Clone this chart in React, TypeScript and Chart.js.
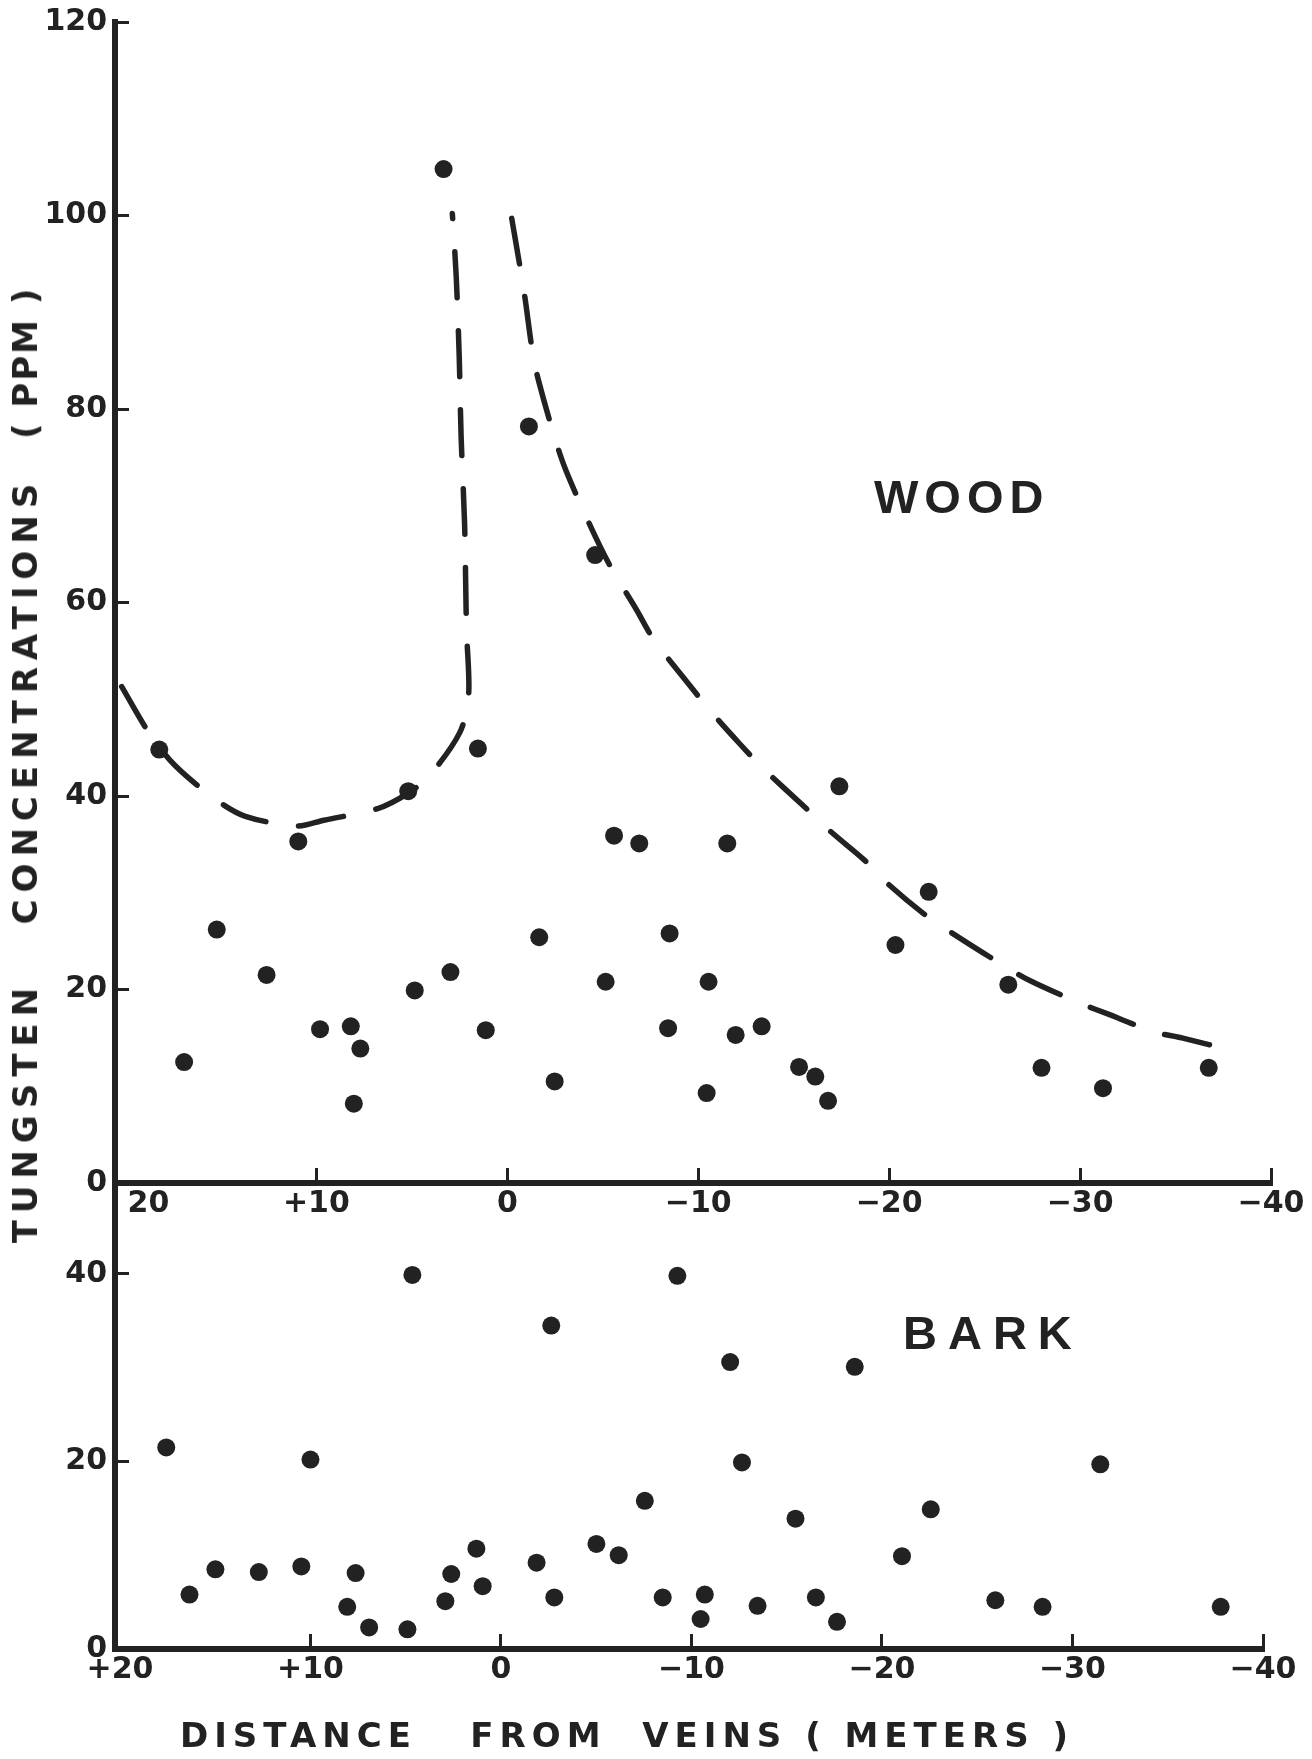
import React, { useEffect, useRef } from "react";
import { Chart, registerables } from "chart.js";

Chart.register(...registerables);

const INK = "#222222";

// ---- tick values and labels ----
const xTickValues = [20, 10, 0, -10, -20, -30, -40];
// In the WOOD panel the "20" label sits just right of the vertical axis (no tick mark there)
const woodXLabelAnchors = [18.8, 10, 0, -10, -20, -30, -40];
const woodXTickLabels = ["20", "+10", "0", "−10", "−20", "−30", "−40"];
const barkXTickLabels = ["+20", "+10", "0", "−10", "−20", "−30", "−40"];
const woodYTickValues = [0, 20, 40, 60, 80, 100, 120];
const barkYTickValues = [0, 20, 40];

// ---- WOOD samples (distance m, tungsten ppm) ----
const woodDistance = [
  3.34, -1.13, -4.6, 18.23, 15.22, 16.93, 12.61, 10.95, 9.81, 8.2, 7.7, 8.04, 5.19,
  4.85, 2.98, 1.54, 1.13, -1.67, -2.48, -5.15, -5.59, -6.91, -8.5, -8.42, -17.39,
  -11.52, -22.07, -20.33, -10.54, -26.24, -11.96, -13.32, -15.28, -16.13, -16.8,
  -10.44, -27.98, -31.2, -36.74,
];
const woodPpm = [
  104.8, 78.2, 64.9, 44.8, 26.2, 12.5, 21.5, 35.3, 15.9, 16.2, 13.9, 8.2, 40.5,
  19.9, 21.8, 44.9, 15.8, 25.4, 10.5, 20.8, 35.9, 35.1, 25.8, 16.0, 41.0,
  35.1, 30.1, 24.6, 20.8, 20.5, 15.3, 16.2, 12.0, 11.0, 8.5,
  9.3, 11.9, 9.8, 11.9,
];

// ---- WOOD envelope curves (dashed) ----
const leftEnvelopeDistance = [
  20.2, 18.73, 17.43, 15.32, 13.72, 11.01, 9.6, 6.79, 5.19, 4.08, 2.48, 2.03, 2.12,
  2.16, 2.24, 2.42, 2.52, 2.68, 2.88,
];
const leftEnvelopePpm = [
  51.3, 46.4, 43.2, 39.7, 37.9, 36.9, 37.5, 38.7, 40.3, 42.1, 46.6, 50.4, 56.5,
  59.3, 68.2, 77.1, 85.4, 93.8, 100.2,
];
const rightEnvelopeDistance = [
  -0.23, -0.67, -0.93, -1.34, -1.64, -2.44, -3.04, -4.28, -5.35, -6.75, -7.66, -9.57,
  -10.54, -12.17, -13.37, -15.66, -16.95, -18.69, -19.89, -21.96, -23.48, -25.65,
  -27.39, -30.11, -31.41, -33.91, -35.33, -38.16,
];
const rightEnvelopePpm = [
  99.7, 94.6, 91.4, 85.6, 82.9, 77.3, 73.8, 68.2, 63.9, 59.3, 56.2, 51.4,
  49.0, 45.4, 42.9, 38.7, 36.3, 33.4, 31.0, 27.6, 25.6, 22.9,
  20.9, 18.5, 17.5, 15.6, 15.0, 13.6,
];

// ---- BARK samples ----
const barkDistance = [
  4.65, -2.64, 17.57, 10.0, -7.55, 1.29, -5.01, -6.18, -1.87, 14.99, 12.71, 10.48,
  7.63, 2.61, 0.96, 16.35, 2.92, -2.8, 8.07, 6.92, 4.91,
  -9.26, -12.03, -18.57, -12.65, -31.46, -15.46, -22.56, -21.05, -8.49, -10.7,
  -10.48, -13.47, -16.53, -17.64, -25.95, -28.43, -37.78,
];
const barkPpm = [
  39.9, 34.5, 21.5, 20.2, 15.8, 10.7, 11.2, 10.0, 9.2, 8.5, 8.2, 8.8,
  8.1, 8.0, 6.7, 5.8, 5.1, 5.5, 4.5, 2.3, 2.1,
  39.8, 30.6, 30.1, 19.9, 19.7, 13.9, 14.9, 9.9, 5.5, 5.8,
  3.2, 4.6, 5.5, 2.9, 5.2, 4.5, 4.5,
];

const toPoints = (xs: number[], ys: number[]) => xs.map((x, i) => ({ x, y: ys[i] }));

const tickFont = { family: "'DejaVu Sans', sans-serif", weight: "bold" as const, size: 30 };

function dotDataset(label: string, xs: number[], ys: number[]) {
  return {
    label,
    data: toPoints(xs, ys),
    showLine: false,
    pointRadius: 9,
    pointBackgroundColor: INK,
    pointBorderWidth: 0,
    pointHoverRadius: 9,
  };
}

function curveDataset(label: string, xs: number[], ys: number[]) {
  return {
    label,
    data: toPoints(xs, ys),
    showLine: true,
    pointRadius: 0,
    borderColor: INK,
    borderWidth: 5.5,
    borderDash: [46, 33],
    borderCapStyle: "round" as const,
    tension: 0.3,
    fill: false,
  };
}

type PanelCfg = {
  xMax: number;
  yMax: number;
  yTicks: number[];
  xTicks: number[];
  xLabels: string[];
  padTop: number;
  padRight: number;
  xHeight: number;
  xLabelPad: number;
  datasets: any[];
};

function buildConfig(cfg: PanelCfg): any {
  return {
    type: "scatter",
    data: { datasets: cfg.datasets },
    options: {
      animation: false,
      responsive: false,
      maintainAspectRatio: false,
      devicePixelRatio: 1,
      events: [],
      layout: { padding: { left: 0, right: cfg.padRight, top: cfg.padTop, bottom: 0 } },
      plugins: {
        legend: { display: false },
        tooltip: { enabled: false },
        title: { display: false },
      },
      scales: {
        x: {
          type: "linear",
          reverse: true,
          min: -40,
          max: cfg.xMax,
          afterFit: (s: any) => {
            s.height = cfg.xHeight;
            s.paddingLeft = 0;
            s.paddingRight = 0;
          },
          afterBuildTicks: (s: any) => {
            s.ticks = cfg.xTicks.map((v) => ({ value: v }));
          },
          border: { display: true, color: INK, width: 6 },
          grid: {
            display: true,
            drawOnChartArea: false,
            drawTicks: true,
            tickLength: -15,
            tickWidth: 3,
            tickColor: (ctx: any) =>
              ctx.tick && ctx.tick.value > 15 ? "rgba(0,0,0,0)" : INK,
          },
          ticks: {
            autoSkip: false,
            maxRotation: 0,
            padding: cfg.xLabelPad,
            color: INK,
            font: tickFont,
            callback: (v: number) => {
              const i = cfg.xTicks.indexOf(v);
              return i >= 0 ? cfg.xLabels[i] : "";
            },
          },
        },
        y: {
          type: "linear",
          min: 0,
          max: cfg.yMax,
          afterFit: (s: any) => {
            s.width = 115;
            s.paddingTop = 0;
            s.paddingBottom = 0;
          },
          afterBuildTicks: (s: any) => {
            s.ticks = cfg.yTicks.map((v) => ({ value: v }));
          },
          border: { display: true, color: INK, width: 6 },
          grid: {
            display: true,
            drawOnChartArea: false,
            drawTicks: true,
            tickLength: -14,
            tickWidth: 3,
            tickColor: INK,
          },
          ticks: {
            autoSkip: false,
            padding: 22,
            color: INK,
            font: tickFont,
            callback: (v: number) => String(v),
          },
        },
      },
    },
  };
}

function Panel({ top, height, cfg }: { top: number; height: number; cfg: PanelCfg }) {
  const ref = useRef<HTMLCanvasElement>(null);
  useEffect(() => {
    if (!ref.current) return;
    const chart = new Chart(ref.current, buildConfig(cfg));
    return () => chart.destroy();
  }, []);
  return (
    <canvas
      ref={ref}
      width={1312}
      height={height}
      style={{ position: "absolute", left: 0, top, width: 1312, height }}
    />
  );
}

const textBase: React.CSSProperties = {
  position: "absolute",
  margin: 0,
  fontFamily: "'Liberation Sans', Arial, sans-serif",
  fontWeight: 700,
  color: INK,
  whiteSpace: "pre",
  lineHeight: 1,
};

const titleBase: React.CSSProperties = {
  ...textBase,
  fontFamily: "'DejaVu Sans', sans-serif",
};

export default function App() {
  const woodCfg: PanelCfg = {
    xMax: 20.55,
    yMax: 120,
    yTicks: woodYTickValues,
    xTicks: woodXLabelAnchors,
    xLabels: woodXTickLabels,
    padTop: 22,
    padRight: 41,
    xHeight: 57,
    xLabelPad: 18,
    datasets: [
      dotDataset("Wood", woodDistance, woodPpm),
      curveDataset("Wood envelope (near side)", leftEnvelopeDistance, leftEnvelopePpm),
      curveDataset("Wood envelope (far side)", rightEnvelopeDistance, rightEnvelopePpm),
    ],
  };
  const barkCfg: PanelCfg = {
    xMax: 20.26,
    yMax: 49.7,
    yTicks: barkYTickValues,
    xTicks: xTickValues,
    xLabels: barkXTickLabels,
    padTop: 83,
    padRight: 49,
    xHeight: 110,
    xLabelPad: 18,
    datasets: [dotDataset("Bark", barkDistance, barkPpm)],
  };

  return (
    <div
      style={{
        position: "absolute",
        left: 0,
        top: 0,
        width: 1312,
        height: 1759,
        background: "#ffffff",
        overflow: "hidden",
      }}
    >
      <Panel top={0} height={1240} cfg={woodCfg} />
      <Panel top={1100} height={659} cfg={barkCfg} />

      <div style={{ ...textBase, left: 874, top: 473, fontSize: 47, letterSpacing: 6 }}>WOOD</div>
      <div style={{ ...textBase, left: 903, top: 1309, fontSize: 47, letterSpacing: 11 }}>BARK</div>

      <div style={{ ...titleBase, left: 180, top: 1718, fontSize: 34, letterSpacing: 6 }}>
        {"DISTANCE   FROM  VEINS ( METERS )"}
      </div>

      <div
        style={{
          ...titleBase,
          left: 25,
          top: 765,
          fontSize: 34,
          letterSpacing: 7,
          transform: "translate(-50%, -50%) rotate(-90deg)",
        }}
      >
        {"TUNGSTEN   CONCENTRATIONS  "}
        <span style={{ letterSpacing: 2 }}>( PPM )</span>
      </div>
    </div>
  );
}
